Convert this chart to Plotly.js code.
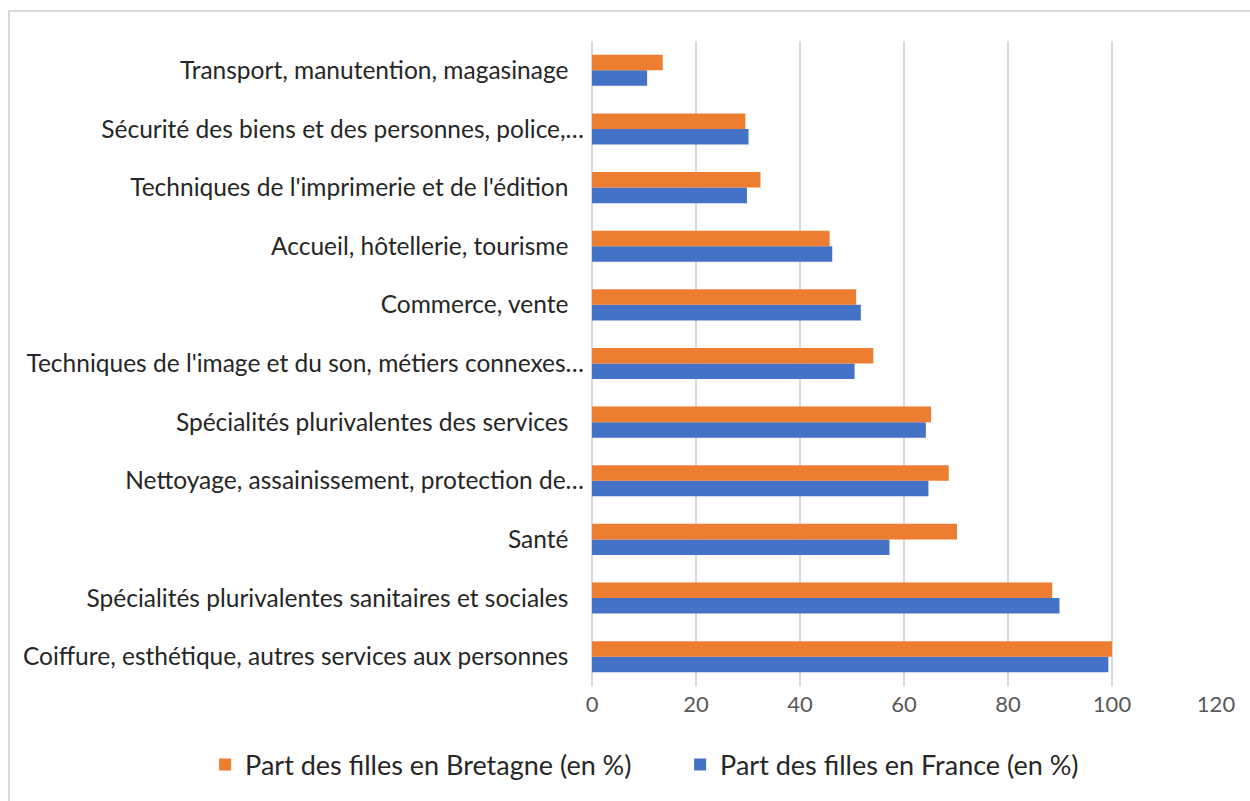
<!DOCTYPE html>
<html>
<head>
<meta charset="utf-8">
<script src="https://cdn.plot.ly/plotly-3.0.1.min.js"></script>
<style>
  html, body { margin: 0; padding: 0; background: #ffffff; }
  #frame { position: absolute; left: 8px; top: 10px; width: 1242px; height: 791px;
           border-left: 2px solid #d9d9d9; border-top: 2px solid #d9d9d9; box-sizing: border-box; }
  #chart { position: absolute; left: 10px; top: 12px; width: 1240px; height: 789px; }
</style>
</head>
<body>
<div id="frame"></div>
<div id="chart"></div>
<script>
// Categories listed bottom to top
const categories = [
  "Coiffure, esthétique, autres services aux personnes\u00a0\u00a0\u2009",
  "Spécialités plurivalentes sanitaires et sociales\u00a0\u00a0\u2009",
  "Santé\u00a0\u00a0\u2009",
  "Nettoyage, assainissement, protection de…",
  "Spécialités plurivalentes des services\u00a0\u00a0\u2009",
  "Techniques de l'image et du son, métiers connexes…",
  "Commerce, vente\u00a0\u00a0\u2009",
  "Accueil, hôtellerie, tourisme\u00a0\u00a0\u2009",
  "Techniques de l'imprimerie et de l'édition\u00a0\u00a0\u2009",
  "Sécurité des biens et des personnes, police,…",
  "Transport, manutention, magasinage\u00a0\u00a0\u2009"
];
const bretagne = [100, 88.5, 70.2, 68.6, 65.2, 54.1, 50.8, 45.7, 32.4, 29.5, 13.6];
const france   = [99.3, 89.9, 57.2, 64.7, 64.2, 50.5, 51.7, 46.2, 29.8, 30.1, 10.6];
const xTicks = [0, 20, 40, 60, 80, 100, 120];
const nameBretagne = "Part des filles en Bretagne (en %)";
const nameFrance = "Part des filles en France (en %)";

const traces = [
  { type: "bar", orientation: "h", name: nameFrance, y: categories, x: france,
    marker: { color: "#4472C4" }, legendrank: 2, hoverinfo: "x+name" },
  { type: "bar", orientation: "h", name: nameBretagne, y: categories, x: bretagne,
    marker: { color: "#ED7D31" }, legendrank: 1, hoverinfo: "x+name" }
];

const FONT = "Lato, 'Open Sans', sans-serif";
const layout = {
  width: 1240, height: 789,
  paper_bgcolor: "#ffffff", plot_bgcolor: "#ffffff",
  margin: { l: 582, r: 34, t: 29, b: 115 },
  barmode: "group", bargap: 0.47, bargroupgap: 0,
  font: { family: FONT, size: 24, color: "#262626" },
  xaxis: {
    range: [0, 120], tickvals: xTicks, ticktext: xTicks.map(String),
    showgrid: true, gridcolor: "#d9d9d9", gridwidth: 2,
    zeroline: true, zerolinecolor: "#d9d9d9", zerolinewidth: 2,
    showline: false, ticks: "", ticklabelstandoff: 3,
    tickfont: { family: FONT, size: 22, color: "#595959" },
    fixedrange: true
  },
  yaxis: {
    type: "category", showgrid: false, zeroline: false, showline: false, ticks: "",
    ticklabelstandoff: 7,
    tickfont: { family: FONT, size: 24.5, color: "#262626" },
    fixedrange: true
  },
  showlegend: true,
  legend: {
    orientation: "h", xref: "paper", yref: "paper",
    x: -0.62, xanchor: "left", y: -0.1225, yanchor: "middle",
    font: { family: FONT, size: 27, color: "#262626" },
    itemwidth: 30, entrywidth: 430, entrywidthmode: "pixels"
  }
};

Plotly.newPlot("chart", traces, layout, { displayModeBar: false, staticPlot: true });
</script>
</body>
</html>
